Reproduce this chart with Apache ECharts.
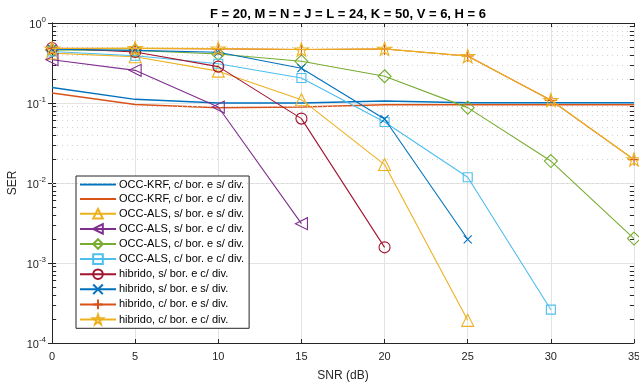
<!DOCTYPE html>
<html>
<head>
<meta charset="utf-8">
<script src="https://cdn.jsdelivr.net/npm/echarts@6/dist/echarts.min.js"></script>
<style>
  html, body { margin: 0; padding: 0; background: #fff; }
  #main { width: 639px; height: 385px; }
</style>
</head>
<body>
<div id="main"></div>
<script>
var snr = [0, 5, 10, 15, 20, 25, 30, 35];

var krfSdiv = [0.156, 0.111, 0.100, 0.100, 0.106, 0.101, 0.101, 0.101];
var krfCdiv = [0.133, 0.096, 0.087, 0.089, 0.095, 0.095, 0.095, 0.095];
var alsSbSd = [0.42, 0.378, 0.25, 0.110, 0.0170, 0.000192, null, null];
var alsSbCd = [0.348, 0.256, 0.089, 0.0031, null, null, null, null];
var alsCbSd = [0.46, 0.455, 0.41, 0.332, 0.216, 0.0875, 0.0188, 0.00202];
var alsCbCd = [0.44, 0.39, 0.31, 0.205, 0.058, 0.0118, 0.000261, null];
var hibSbCd = [0.487, 0.434, 0.285, 0.0638, 0.00157, null, null, null];
var hibSbSd = [0.47, 0.455, 0.43, 0.272, 0.063, 0.00198, null, null];
var hibCbSd = [0.482, 0.48, 0.475, 0.466, 0.474, 0.387, 0.108, 0.0196];
var hibCbCd = [0.48, 0.485, 0.478, 0.466, 0.475, 0.385, 0.109, 0.0197];

var names = [
  'OCC-KRF, c/ bor. e s/ div.',
  'OCC-KRF, c/ bor. e c/ div.',
  'OCC-ALS, s/ bor. e s/ div.',
  'OCC-ALS, s/ bor. e c/ div.',
  'OCC-ALS, c/ bor. e s/ div.',
  'OCC-ALS, c/ bor. e c/ div.',
  'hibrido, s/ bor. e c/ div.',
  'hibrido, s/ bor. e s/ div.',
  'hibrido, c/ bor. e s/ div.',
  'hibrido, c/ bor. e c/ div.'
];
var values = [krfSdiv, krfCdiv, alsSbSd, alsSbCd, alsCbSd, alsCbCd, hibSbCd, hibSbSd, hibCbSd, hibCbCd];
var colors = ['#0072BD', '#D95319', '#EDB120', '#7E2F8E', '#77AC30', '#4DBEEE', '#A2142F', '#0072BD', '#D95319', '#EDB120'];

var starPath = 'path://M50,0 L61.8,35.5 L100,35.5 L69.1,57.4 L80.9,93.5 L50,71.3 L19.1,93.5 L30.9,57.4 L0,35.5 L38.2,35.5 Z';
var symbols = [
  { symbol: 'none', size: 0, rotate: 0 },
  { symbol: 'none', size: 0, rotate: 0 },
  { symbol: 'triangle', size: 12, rotate: 0 },
  { symbol: 'triangle', size: 12, rotate: 90 },
  { symbol: 'diamond', size: 13, rotate: 0 },
  { symbol: 'rect', size: 9, rotate: 0 },
  { symbol: 'circle', size: 11, rotate: 0 },
  { symbol: 'path://M0,0 L10,10 M10,0 L0,10', size: 8, rotate: 0 },
  { symbol: 'path://M5,0 L5,10 M0,5 L10,5', size: 12, rotate: 0 },
  { symbol: starPath, size: 14, rotate: 0 }
];

// minor grid lines of the log axis (2..9 x 10^d)
var minorVals = [];
for (var d = -4; d < 0; d++) {
  for (var k = 2; k <= 9; k++) minorVals.push(k * Math.pow(10, d));
}
var minorLines = minorVals.map(function (v) { return { yAxis: v }; });
var minorTicks = [];
minorVals.forEach(function (v) {
  minorTicks.push([{ coord: [0, v] }, { coord: [0.25, v] }]);
  minorTicks.push([{ coord: [34.75, v] }, { coord: [35, v] }]);
});

var series = names.map(function (n, i) {
  var pts = [];
  snr.forEach(function (x, j) {
    if (values[i][j] != null) pts.push([x, values[i][j]]);
  });
  var noMark = symbols[i].symbol === 'none';
  return {
    name: n,
    type: 'line',
    data: pts,
    symbol: symbols[i].symbol,
    symbolSize: symbols[i].size,
    symbolRotate: symbols[i].rotate,
    symbolKeepAspect: true,
    showSymbol: !noMark,
    animation: false,
    z: 3 + i,
    lineStyle: { color: colors[i], width: i < 2 ? 1.5 : 1.1 },
    itemStyle: noMark
      ? { color: 'rgba(255,255,255,0)', borderColor: 'rgba(255,255,255,0)', borderWidth: 0 }
      : { color: 'rgba(255,255,255,0)', borderColor: colors[i], borderWidth: 1.1 }
  };
});

series.push({
  name: 'minorgrid',
  type: 'line',
  data: [],
  silent: true,
  z: 1,
  markLine: {
    silent: true,
    symbol: 'none',
    label: { show: false },
    animation: false,
    lineStyle: { color: '#d2d2d2', type: [1, 4], width: 1 },
    data: minorLines
  }
});
series.push({
  name: 'minorticks',
  type: 'line',
  data: [],
  silent: true,
  z: 20,
  markLine: {
    silent: true,
    symbol: 'none',
    label: { show: false },
    animation: false,
    lineStyle: { color: '#262626', type: 'solid', width: 1 },
    data: minorTicks
  }
});

var axisCol = '#262626';
var chart = echarts.init(document.getElementById('main'));
chart.setOption({
  animation: false,
  backgroundColor: '#ffffff',
  title: {
    text: 'F = 20, M = N = J = L = 24, K = 50, V = 6, H = 6',
    left: 343,
    textAlign: 'center',
    top: 3,
    textStyle: { fontFamily: 'Liberation Sans', fontSize: 13, fontWeight: 'bold', color: '#000' }
  },
  grid: { left: 52, right: 5, top: 23, bottom: 42, containLabel: false, outerBoundsMode: 'none' },
  legend: {
    data: names,
    orient: 'vertical',
    left: 76,
    top: 176,
    itemWidth: 36,
    itemHeight: 12,
    itemGap: 3.5,
    padding: [3, 5, 3, 3],
    borderColor: axisCol,
    borderWidth: 1,
    borderRadius: 0,
    backgroundColor: '#fff',
    textStyle: { fontFamily: 'Liberation Sans', fontSize: 11, color: '#000', padding: [0, 0, 0, -2] }
  },
  xAxis: [{
    type: 'value',
    min: 0, max: 35, interval: 5,
    name: 'SNR (dB)',
    nameLocation: 'middle',
    nameGap: 27,
    nameMoveOverlap: false,
    nameTextStyle: { fontFamily: 'Liberation Sans', fontSize: 12, color: axisCol },
    axisLine: { show: true, lineStyle: { color: axisCol } },
    axisTick: { inside: true, length: 4, lineStyle: { color: axisCol } },
    axisLabel: { fontFamily: 'Liberation Sans', fontSize: 11, color: axisCol, margin: 8 },
    splitLine: { show: true, lineStyle: { color: '#e3e3e3', width: 1 } }
  }, {
    type: 'value',
    position: 'top',
    min: 0, max: 35, interval: 5,
    axisLine: { show: true, lineStyle: { color: axisCol } },
    axisTick: { inside: true, length: 4, lineStyle: { color: axisCol } },
    axisLabel: { show: false },
    splitLine: { show: false }
  }],
  yAxis: [{
    type: 'log',
    logBase: 10,
    min: 1e-4, max: 1,
    name: 'SER',
    nameLocation: 'middle',
    nameGap: 33,
    nameMoveOverlap: false,
    nameTextStyle: { fontFamily: 'Liberation Sans', fontSize: 12, color: axisCol },
    axisLine: { show: true, lineStyle: { color: axisCol } },
    axisTick: { inside: true, length: 4, lineStyle: { color: axisCol } },
    axisLabel: {
      fontFamily: 'Liberation Sans',
      color: axisCol,
      margin: 6,
      formatter: function (v) {
        var e = Math.round(Math.log10(v));
        return '{b|10}{s|' + e + '}';
      },
      rich: {
        b: { fontFamily: 'Liberation Sans', fontSize: 11, color: axisCol, verticalAlign: 'bottom', lineHeight: 14 },
        s: { fontFamily: 'Liberation Sans', fontSize: 8, color: axisCol, verticalAlign: 'top', lineHeight: 14, padding: [0, 0, 6, 0] }
      }
    },
    splitLine: { show: true, lineStyle: { color: '#e3e3e3', width: 1 } }
  }, {
    type: 'log',
    logBase: 10,
    min: 1e-4, max: 1,
    position: 'right',
    axisLine: { show: true, lineStyle: { color: axisCol } },
    axisTick: { inside: true, length: 4, lineStyle: { color: axisCol } },
    axisLabel: { show: false },
    splitLine: { show: false }
  }],
  series: series
});
</script>
</body>
</html>
